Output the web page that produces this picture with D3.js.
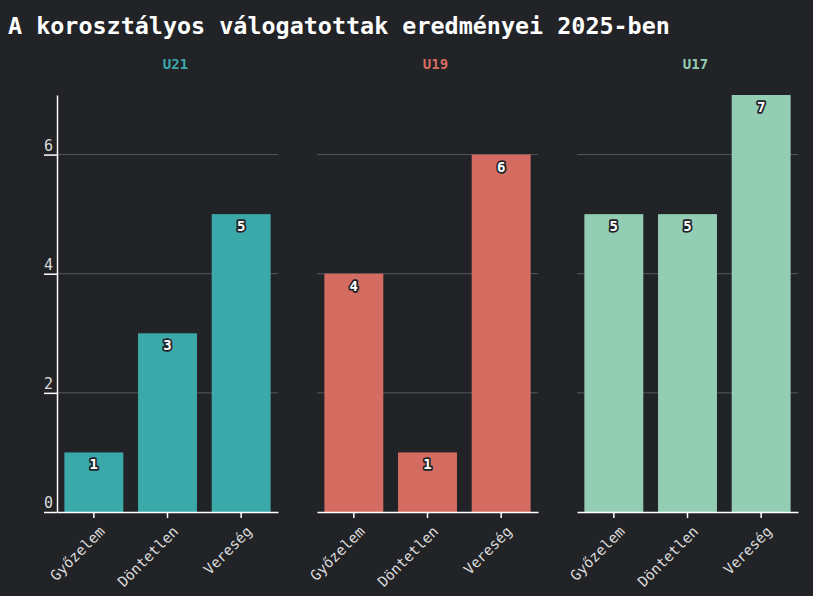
<!DOCTYPE html>
<html><head><meta charset="utf-8">
<script src="https://cdn.jsdelivr.net/npm/d3@7"></script>
<style>
html,body{margin:0;padding:0;background:#222327;}
svg{display:block;}
</style></head>
<body>
<svg id="chart" width="813" height="596"></svg>
<script>
const title = "A korosztályos válogatottak eredményei 2025-ben";
const teams = ["U21", "U19", "U17"];
const categories = ["Győzelem", "Döntetlen", "Vereség"];
const u21Values = [1, 3, 5];
const u19Values = [4, 1, 6];
const u17Values = [5, 5, 7];
const yTicks = [0, 2, 4, 6];
const teamColors = ["#3ba8aa", "#d46c62", "#93cdb4"];
const seriesValues = [u21Values, u19Values, u17Values];

const svg = d3.select("#chart");
const W = 813, H = 596;
const mono = "'DejaVu Sans Mono', 'Liberation Mono', monospace";

svg.append("rect").attr("width", W).attr("height", H).attr("fill", "#222327");

svg.append("text").attr("x", 8).attr("y", 34)
  .attr("fill", "#ffffff").attr("font-family", mono).attr("font-weight", "bold")
  .attr("font-size", 23.4).text(title);

const panelLefts = [57, 317, 577];
const panelW = 221;
const y = d3.scaleLinear().domain([0, 7]).range([512, 95]);

teams.forEach((team, i) => {
  const g = svg.append("g").attr("transform", `translate(${panelLefts[i]},0)`);
  const x = d3.scaleBand().domain(categories).range([0, panelW]).paddingInner(0.2).paddingOuter(0.1);

  g.selectAll("line.grid").data(yTicks.filter(t => t > 0)).enter().append("line")
    .attr("x1", 0).attr("x2", panelW).attr("y1", d => y(d)).attr("y2", d => y(d))
    .attr("stroke", "#55575c").attr("stroke-width", 1);

  g.append("text").attr("x", panelW / 2 + 8).attr("y", 69).attr("text-anchor", "middle")
    .attr("fill", teamColors[i]).attr("font-family", mono).attr("font-weight", "bold")
    .attr("font-size", 14).text(team);

  const data = categories.map((c, k) => ({ c, v: seriesValues[i][k] }));
  g.selectAll("rect.bar").data(data).enter().append("rect")
    .attr("x", d => x(d.c)).attr("width", x.bandwidth())
    .attr("y", d => y(d.v)).attr("height", d => y(0) - y(d.v))
    .attr("fill", teamColors[i]);

  g.selectAll("text.val").data(data).enter().append("text")
    .attr("x", d => x(d.c) + x.bandwidth() / 2).attr("y", d => y(d.v) + 17)
    .attr("text-anchor", "middle").attr("font-family", mono).attr("font-weight", "bold")
    .attr("font-size", 14).attr("fill", "#ffffff")
    .attr("stroke", "#222327").attr("stroke-width", 3.5).attr("paint-order", "stroke")
    .attr("stroke-linejoin", "round")
    .text(d => d.v);

  const xAxis = g.append("g").attr("transform", `translate(0,${y(0)})`)
    .call(d3.axisBottom(x).tickSize(6).tickSizeOuter(0));
  xAxis.select(".domain").attr("stroke", "#ffffff").attr("stroke-width", 1.5);
  xAxis.selectAll(".tick line").attr("stroke", "#ffffff").attr("stroke-width", 1.5);
  xAxis.selectAll(".tick text")
    .attr("fill", "#dddddd").attr("font-family", mono).attr("font-size", 14.5)
    .attr("text-anchor", "end").attr("dx", "0").attr("dy", "0.6em")
    .attr("transform", "rotate(-45) translate(-6,5)");

  if (i === 0) {
    const yAxis = g.append("g").call(d3.axisLeft(y).tickValues(yTicks).tickFormat(d3.format("d")).tickSize(13).tickSizeOuter(0));
    yAxis.select(".domain").attr("stroke", "#ffffff").attr("stroke-width", 1.5);
    yAxis.selectAll(".tick line").attr("stroke", "#ffffff").attr("stroke-width", 1.5);
    yAxis.selectAll(".tick text")
      .attr("fill", "#dddddd").attr("font-family", mono).attr("font-size", 15)
      .attr("x", -13).attr("dy", "-0.3em").attr("text-anchor", "start");
  }
});
</script>
</body></html>
